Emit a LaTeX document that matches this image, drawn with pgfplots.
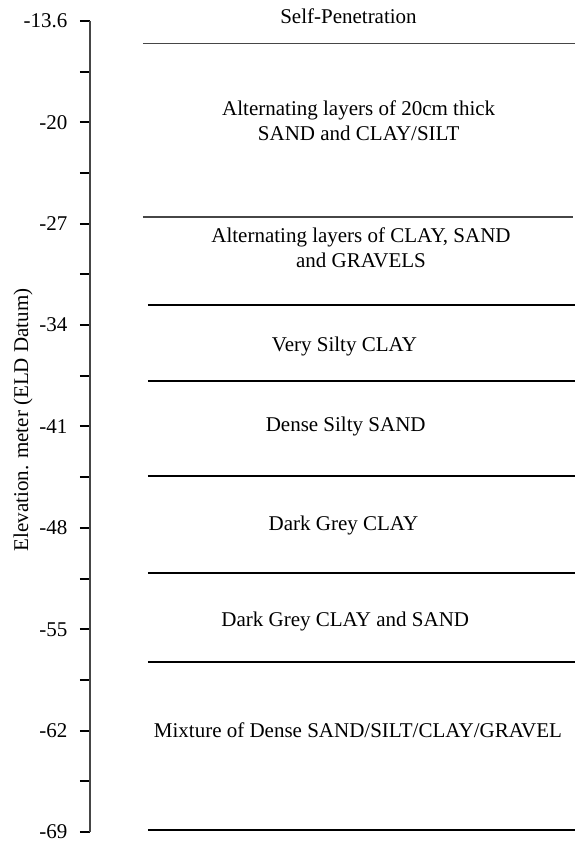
\documentclass[border=0pt]{standalone}
\usepackage{fontspec}
\setmainfont{Liberation Serif}
\usepackage{pgfplots}
\pgfplotsset{compat=1.18}
\definecolor{thinline}{RGB}{70,70,70}

\begin{document}
\begin{tikzpicture}[font=\fontsize{21bp}{25bp}\selectfont]
\begin{axis}[
scale only axis,
width=485bp, height=811bp,
xmin=0, xmax=485,
ymin=-69, ymax=-13,
axis x line=none,
axis y line*=left,
axis line style={thinline, line width=1.2bp},
ytick={-69,-62,-55,-48,-41,-34,-27,-20,-13},
yticklabels={-69,-62,-55,-48,-41,-34,-27,-20,-13.6},
minor ytick={-65.5,-58.5,-51.5,-44.5,-37.5,-30.5,-23.5,-16.5},
tick align=outside,
major tick length=10bp,
minor tick length=10bp,
every tick/.style={black, line width=2bp},
yticklabel style={xshift=-9bp},
ylabel={Elevation. meter (ELD Datum)},
every axis y label/.style={at={(axis cs:-67,-40.55)}, rotate=90, anchor=center},
clip=false,
]
% layer boundaries (elevation in m)
\addplot[thinline, line width=1.3bp] coordinates {(53,-14.55) (485,-14.55)};
\addplot[thinline, line width=1.3bp] coordinates {(53,-26.53) (483,-26.53)};
\addplot[black, line width=2bp] coordinates {(58,-32.61) (485,-32.61)};
\addplot[black, line width=2bp] coordinates {(58,-37.84) (485,-37.84)};
\addplot[black, line width=2bp] coordinates {(58,-44.42) (485,-44.42)};
\addplot[black, line width=2bp] coordinates {(58,-51.15) (485,-51.15)};
\addplot[black, line width=2bp] coordinates {(58,-57.24) (485,-57.24)};
\addplot[black, line width=2.4bp] coordinates {(58,-68.86) (485,-68.86)};

\node at (axis cs:258.5,-12.65) {Self-Penetration};
\node[align=center] at (axis cs:268.7,-19.87) {Alternating layers of 20cm thick\\SAND and CLAY/SILT};
\node[align=center] at (axis cs:271,-28.64) {Alternating layers of CLAY, SAND\\and GRAVELS};
\node at (axis cs:254.5,-35.51) {Very Silty CLAY};
\node at (axis cs:255.7,-41.01) {Dense Silty SAND};
\node at (axis cs:253.5,-47.85) {Dark Grey CLAY};
\node at (axis cs:255.3,-54.48) {Dark Grey CLAY and SAND};
\node at (axis cs:268,-61.96) {Mixture of Dense SAND/SILT/CLAY/GRAVEL};

\coordinate (bl) at (axis cs:-90,-69.83);
\coordinate (tr) at (axis cs:485,-11.55);
\end{axis}
\pgfresetboundingbox
\path[use as bounding box] (bl) rectangle (tr);
\end{tikzpicture}
\end{document}
